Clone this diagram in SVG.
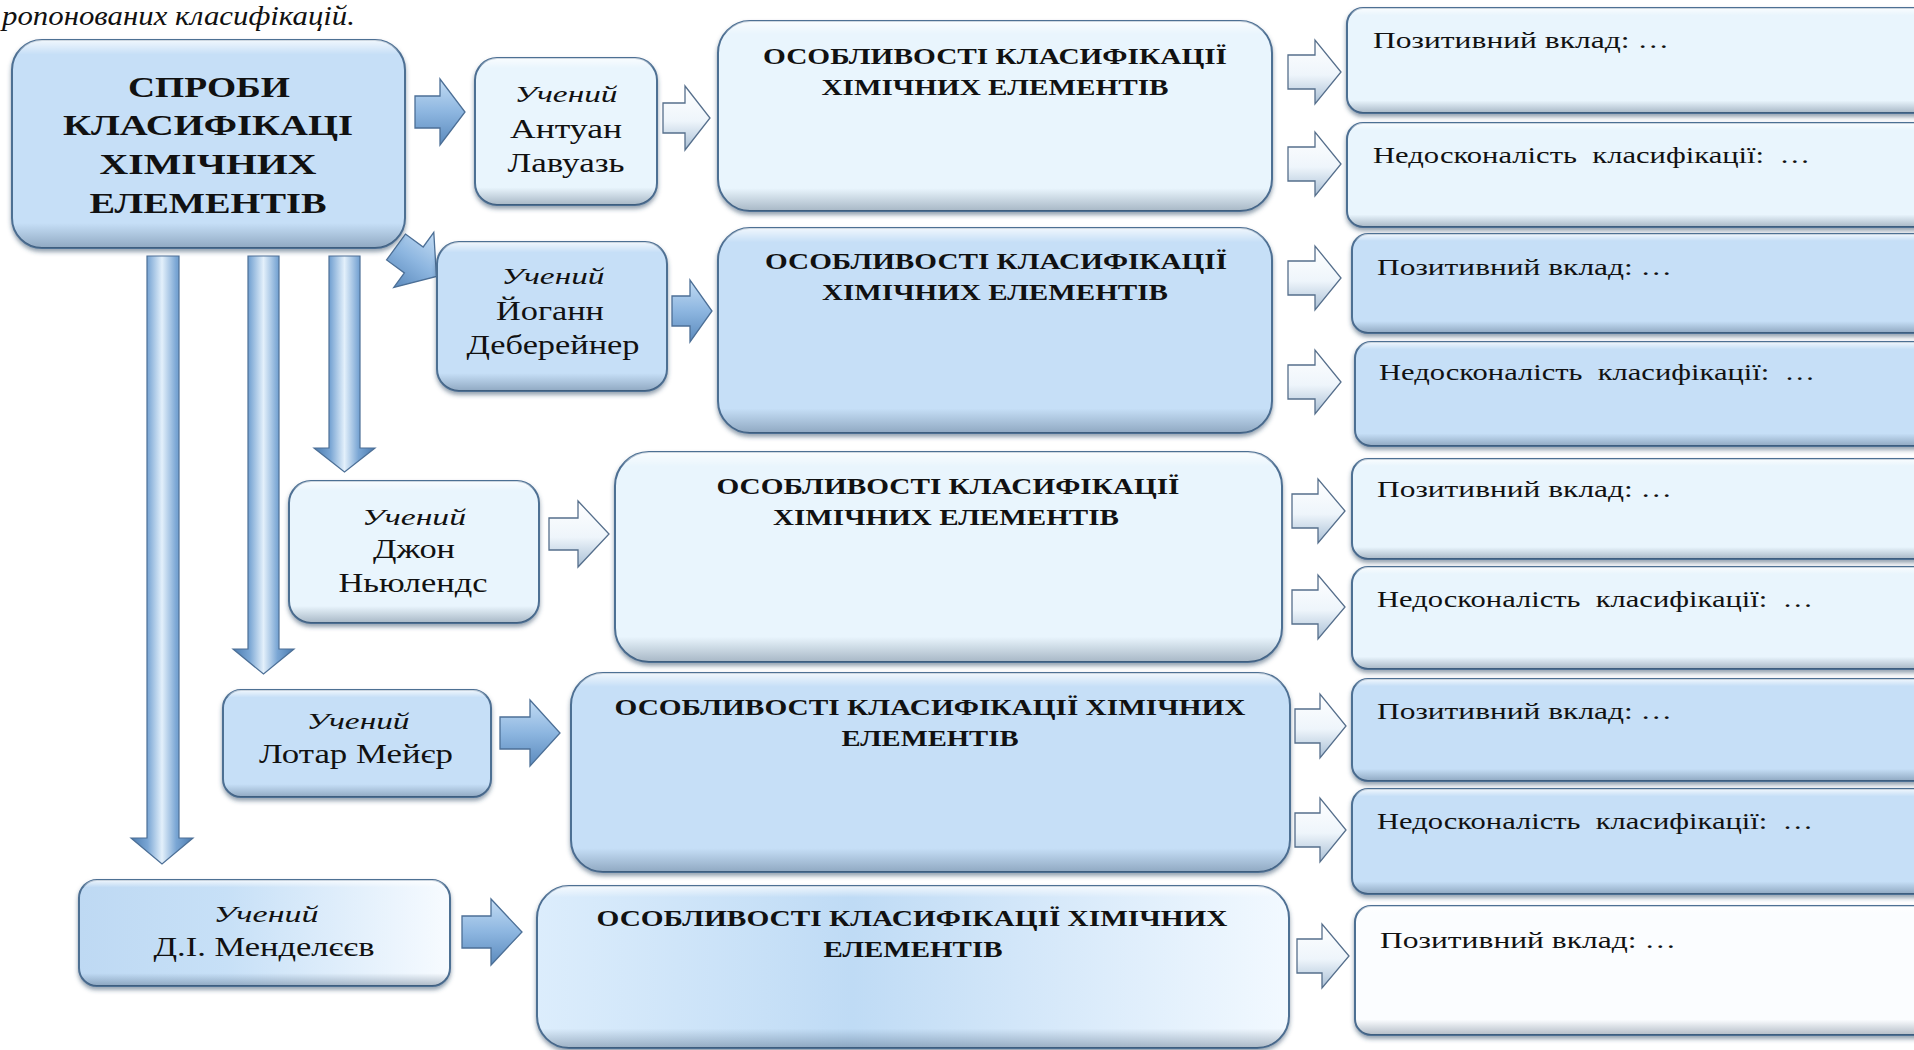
<svg xmlns="http://www.w3.org/2000/svg" width="1914" height="1050" viewBox="0 0 1914 1050">
  <defs>
    <style>
      .box { stroke: #4e6f93; stroke-width: 2; filter: url(#sh); }
      .light { fill: #e9f5fd; }
      .mid { fill: #c6dff7; }
      .bev { fill: url(#bev); stroke: none; }
      text { fill: #111; font-family: "Liberation Serif", "Times New Roman", serif; }
      .t-main { font-size: 30px; font-weight: bold; text-anchor: middle; }
      .t-feat { font-size: 23px; font-weight: bold; text-anchor: middle; }
      .t-item { font-size: 23px; white-space: pre; }
      .t-name { font-size: 27px; text-anchor: middle; }
      .t-role { font-size: 24px; font-style: italic; text-anchor: middle; }
      .arr-mid { fill: url(#gArrMid); stroke: #4c6f96; stroke-width: 1.3; stroke-linejoin: miter; }
      .arr-light { fill: url(#gArrLight); stroke: #566f8c; stroke-width: 1.3; stroke-linejoin: miter; }
      .arr-v { fill: url(#gArrV); stroke: #4c6f96; stroke-width: 1.2; }
    </style>
    <filter id="sh" x="-5%" y="-5%" width="110%" height="120%">
      <feDropShadow dx="0" dy="3" stdDeviation="2" flood-color="#2c4562" flood-opacity="0.5"/>
    </filter>
    <linearGradient id="bev" x1="0" y1="0" x2="0" y2="1">
      <stop offset="0" stop-color="#ffffff" stop-opacity="0.75"/>
      <stop offset="0.07" stop-color="#ffffff" stop-opacity="0"/>
      <stop offset="0.88" stop-color="#1c3450" stop-opacity="0"/>
      <stop offset="1" stop-color="#1c3450" stop-opacity="0.32"/>
    </linearGradient>
    <linearGradient id="gMend" x1="0" y1="0" x2="1" y2="0">
      <stop offset="0" stop-color="#bed9f3"/>
      <stop offset="0.4" stop-color="#c7e0f7"/>
      <stop offset="1" stop-color="#f7fbff"/>
    </linearGradient>
    <linearGradient id="gFeat5" x1="0" y1="0" x2="1" y2="0">
      <stop offset="0" stop-color="#dcedfc"/>
      <stop offset="0.42" stop-color="#bfdbf5"/>
      <stop offset="0.75" stop-color="#dcecfb"/>
      <stop offset="1" stop-color="#f2f9ff"/>
    </linearGradient>
    <linearGradient id="gArrMid" x1="0" y1="0" x2="0" y2="1">
      <stop offset="0" stop-color="#c3dcf4"/>
      <stop offset="0.5" stop-color="#8db6e0"/>
      <stop offset="1" stop-color="#5b8abd"/>
    </linearGradient>
    <linearGradient id="gArrLight" x1="0" y1="0" x2="0" y2="1">
      <stop offset="0" stop-color="#ffffff"/>
      <stop offset="0.55" stop-color="#eef5fb"/>
      <stop offset="1" stop-color="#a9bfd5"/>
    </linearGradient>
    <linearGradient id="gArrV" x1="0" y1="0" x2="1" y2="0">
      <stop offset="0" stop-color="#4a7aae"/>
      <stop offset="0.27" stop-color="#7aa6d4"/>
      <stop offset="0.5" stop-color="#e3f0fb"/>
      <stop offset="0.73" stop-color="#7aa6d4"/>
      <stop offset="1" stop-color="#4a7aae"/>
    </linearGradient>
  </defs>

  <rect width="1914" height="1050" fill="#ffffff"/>

  <!-- caption fragment at the top edge -->
  <text x="2" y="25" font-size="28" font-style="italic" textLength="353" lengthAdjust="spacingAndGlyphs">ропонованих класифікацій.</text>

  <!-- connectors -->
  <g id="connectors">
    <!-- vertical trunks from the root box -->
    <path class="arr-v" d="M147,256 L179,256 L179,838 L193,838 L162,864 L131,838 L147,838 Z"/>
    <path class="arr-v" d="M248,256 L279,256 L279,649 L294,649 L263.5,674 L233,649 L248,649 Z"/>
    <path class="arr-v" d="M329,256 L360,256 L360,448 L375,448 L344.5,472 L314,448 L329,448 Z"/>
    <!-- root to scientists -->
    <path class="arr-mid" d="M415,96 L440,96 L440,79 L465,112 L440,145 L440,128 L415,128 Z"/>
    <path class="arr-mid" transform="translate(396,247) rotate(36)" d="M0,-16 L22,-16 L22,-34 L50,0 L22,34 L22,16 L0,16 Z"/>
    <!-- scientists to features -->
    <path class="arr-light" d="M663,103 L685,103 L685,86 L710,118 L685,150 L685,133 L663,133 Z"/>
    <path class="arr-mid" d="M672,296 L690,296 L690,280 L712,311 L690,342 L690,326 L672,326 Z"/>
    <path class="arr-light" d="M549,518 L578,518 L578,501 L609,534 L578,567 L578,550 L549,550 Z"/>
    <path class="arr-mid" d="M500,717 L530,717 L530,700 L560,733 L530,766 L530,749 L500,749 Z"/>
    <path class="arr-mid" d="M462,916 L491,916 L491,899 L522,932 L491,965 L491,948 L462,948 Z"/>
    <!-- features to outcomes -->
    <path class="arr-light" d="M1288,55 L1315,55 L1315,40 L1341,72 L1315,104 L1315,89 L1288,89 Z"/>
    <path class="arr-light" d="M1288,147 L1315,147 L1315,132 L1341,164 L1315,196 L1315,181 L1288,181 Z"/>
    <path class="arr-light" d="M1288,261 L1315,261 L1315,246 L1341,278 L1315,310 L1315,295 L1288,295 Z"/>
    <path class="arr-light" d="M1288,365 L1315,365 L1315,350 L1341,382 L1315,414 L1315,399 L1288,399 Z"/>
    <path class="arr-light" d="M1292,494 L1318,494 L1318,479 L1345,511 L1318,543 L1318,528 L1292,528 Z"/>
    <path class="arr-light" d="M1292,590 L1318,590 L1318,575 L1345,607 L1318,639 L1318,624 L1292,624 Z"/>
    <path class="arr-light" d="M1295,709 L1320,709 L1320,694 L1346,726 L1320,758 L1320,743 L1295,743 Z"/>
    <path class="arr-light" d="M1295,813 L1320,813 L1320,798 L1346,830 L1320,862 L1320,847 L1295,847 Z"/>
    <path class="arr-light" d="M1297,939 L1322,939 L1322,924 L1349,956 L1322,988 L1322,973 L1297,973 Z"/>
  </g>

  <!-- root -->
  <g id="root">
    <rect class="box mid" x="12" y="40" width="393" height="208" rx="30"/>
    <rect class="bev" x="12" y="40" width="393" height="208" rx="30"/>
    <text class="t-main" x="209" y="97" textLength="162" lengthAdjust="spacingAndGlyphs">СПРОБИ</text>
    <text class="t-main" x="208" y="135" textLength="290" lengthAdjust="spacingAndGlyphs">КЛАСИФІКАЦІ</text>
    <text class="t-main" x="208" y="174" textLength="217" lengthAdjust="spacingAndGlyphs">ХІМІЧНИХ</text>
    <text class="t-main" x="208" y="213" textLength="237" lengthAdjust="spacingAndGlyphs">ЕЛЕМЕНТІВ</text>
  </g>

  <!-- Lavoisier row -->
  <g id="lavoisier">
    <rect class="box light" x="475" y="58" width="182" height="147" rx="22"/>
    <rect class="bev" x="475" y="58" width="182" height="147" rx="22"/>
    <text class="t-role" x="566" y="102" textLength="103" lengthAdjust="spacingAndGlyphs">Учений</text>
    <text class="t-name" x="566" y="138" textLength="112" lengthAdjust="spacingAndGlyphs">Антуан</text>
    <text class="t-name" x="566" y="172" textLength="117" lengthAdjust="spacingAndGlyphs">Лавуазь</text>
  </g>
  <g id="features-1">
    <rect class="box light" x="718" y="21" width="554" height="190" rx="32"/>
    <rect class="bev" x="718" y="21" width="554" height="190" rx="32"/>
    <text class="t-feat" x="995" y="64" textLength="464" lengthAdjust="spacingAndGlyphs">ОСОБЛИВОСТІ КЛАСИФІКАЦІЇ</text>
    <text class="t-feat" x="995" y="95" textLength="347" lengthAdjust="spacingAndGlyphs">ХІМІЧНИХ ЕЛЕМЕНТІВ</text>
  </g>
  <g id="positive-1">
    <rect class="box light" x="1347" y="8" width="590" height="105" rx="16"/>
    <rect class="bev" x="1347" y="8" width="590" height="105" rx="16"/>
    <text class="t-item" x="1373" y="48" textLength="296" lengthAdjust="spacingAndGlyphs">Позитивний вклад: …</text>
  </g>
  <g id="flaws-1">
    <rect class="box light" x="1347" y="123" width="590" height="104" rx="16"/>
    <rect class="bev" x="1347" y="123" width="590" height="104" rx="16"/>
    <text class="t-item" x="1373" y="163" textLength="437" lengthAdjust="spacingAndGlyphs">Недосконалість  класифікації:  …</text>
  </g>

  <!-- Döbereiner row -->
  <g id="doebereiner">
    <rect class="box mid" x="437" y="242" width="230" height="149" rx="22"/>
    <rect class="bev" x="437" y="242" width="230" height="149" rx="22"/>
    <text class="t-role" x="553" y="284" textLength="103" lengthAdjust="spacingAndGlyphs">Учений</text>
    <text class="t-name" x="550" y="320" textLength="108" lengthAdjust="spacingAndGlyphs">Йоганн</text>
    <text class="t-name" x="553" y="354" textLength="173" lengthAdjust="spacingAndGlyphs">Деберейнер</text>
  </g>
  <g id="features-2">
    <rect class="box mid" x="718" y="228" width="554" height="205" rx="32"/>
    <rect class="bev" x="718" y="228" width="554" height="205" rx="32"/>
    <text class="t-feat" x="996" y="269" textLength="462" lengthAdjust="spacingAndGlyphs">ОСОБЛИВОСТІ КЛАСИФІКАЦІЇ</text>
    <text class="t-feat" x="995" y="300" textLength="346" lengthAdjust="spacingAndGlyphs">ХІМІЧНИХ ЕЛЕМЕНТІВ</text>
  </g>
  <g id="positive-2">
    <rect class="box mid" x="1352" y="234" width="585" height="99" rx="16"/>
    <rect class="bev" x="1352" y="234" width="585" height="99" rx="16"/>
    <text class="t-item" x="1377" y="275" textLength="295" lengthAdjust="spacingAndGlyphs">Позитивний вклад: …</text>
  </g>
  <g id="flaws-2">
    <rect class="box mid" x="1355" y="342" width="582" height="104" rx="16"/>
    <rect class="bev" x="1355" y="342" width="582" height="104" rx="16"/>
    <text class="t-item" x="1379" y="380" textLength="436" lengthAdjust="spacingAndGlyphs">Недосконалість  класифікації:  …</text>
  </g>

  <!-- Newlands row -->
  <g id="newlands">
    <rect class="box light" x="289" y="481" width="250" height="142" rx="22"/>
    <rect class="bev" x="289" y="481" width="250" height="142" rx="22"/>
    <text class="t-role" x="414" y="525" textLength="104" lengthAdjust="spacingAndGlyphs">Учений</text>
    <text class="t-name" x="414" y="558" textLength="82" lengthAdjust="spacingAndGlyphs">Джон</text>
    <text class="t-name" x="413" y="592" textLength="149" lengthAdjust="spacingAndGlyphs">Ньюлендс</text>
  </g>
  <g id="features-3">
    <rect class="box light" x="615" y="452" width="667" height="210" rx="34"/>
    <rect class="bev" x="615" y="452" width="667" height="210" rx="34"/>
    <text class="t-feat" x="948" y="494" textLength="463" lengthAdjust="spacingAndGlyphs">ОСОБЛИВОСТІ КЛАСИФІКАЦІЇ</text>
    <text class="t-feat" x="946" y="525" textLength="346" lengthAdjust="spacingAndGlyphs">ХІМІЧНИХ ЕЛЕМЕНТІВ</text>
  </g>
  <g id="positive-3">
    <rect class="box light" x="1352" y="459" width="585" height="100" rx="16"/>
    <rect class="bev" x="1352" y="459" width="585" height="100" rx="16"/>
    <text class="t-item" x="1377" y="497" textLength="295" lengthAdjust="spacingAndGlyphs">Позитивний вклад: …</text>
  </g>
  <g id="flaws-3">
    <rect class="box light" x="1352" y="567" width="585" height="102" rx="16"/>
    <rect class="bev" x="1352" y="567" width="585" height="102" rx="16"/>
    <text class="t-item" x="1377" y="607" textLength="436" lengthAdjust="spacingAndGlyphs">Недосконалість  класифікації:  …</text>
  </g>

  <!-- Meyer row -->
  <g id="meyer">
    <rect class="box mid" x="223" y="690" width="268" height="107" rx="18"/>
    <rect class="bev" x="223" y="690" width="268" height="107" rx="18"/>
    <text class="t-role" x="358" y="729" textLength="103" lengthAdjust="spacingAndGlyphs">Учений</text>
    <text class="t-name" x="356" y="763" textLength="194" lengthAdjust="spacingAndGlyphs">Лотар Мейєр</text>
  </g>
  <g id="features-4">
    <rect class="box mid" x="571" y="673" width="719" height="199" rx="32"/>
    <rect class="bev" x="571" y="673" width="719" height="199" rx="32"/>
    <text class="t-feat" x="930" y="715" textLength="631" lengthAdjust="spacingAndGlyphs">ОСОБЛИВОСТІ КЛАСИФІКАЦІЇ ХІМІЧНИХ</text>
    <text class="t-feat" x="930" y="746" textLength="177" lengthAdjust="spacingAndGlyphs">ЕЛЕМЕНТІВ</text>
  </g>
  <g id="positive-4">
    <rect class="box mid" x="1352" y="679" width="585" height="102" rx="16"/>
    <rect class="bev" x="1352" y="679" width="585" height="102" rx="16"/>
    <text class="t-item" x="1377" y="719" textLength="295" lengthAdjust="spacingAndGlyphs">Позитивний вклад: …</text>
  </g>
  <g id="flaws-4">
    <rect class="box mid" x="1352" y="789" width="585" height="105" rx="16"/>
    <rect class="bev" x="1352" y="789" width="585" height="105" rx="16"/>
    <text class="t-item" x="1377" y="829" textLength="436" lengthAdjust="spacingAndGlyphs">Недосконалість  класифікації:  …</text>
  </g>

  <!-- Mendeleev row -->
  <g id="mendeleev">
    <rect class="box" fill="url(#gMend)" x="79" y="880" width="371" height="106" rx="18"/>
    <rect class="bev" x="79" y="880" width="371" height="106" rx="18"/>
    <text class="t-role" x="266" y="922" textLength="105" lengthAdjust="spacingAndGlyphs">Учений</text>
    <text class="t-name" x="264" y="956" textLength="221" lengthAdjust="spacingAndGlyphs">Д.І. Менделєєв</text>
  </g>
  <g id="features-5">
    <rect class="box" fill="url(#gFeat5)" x="537" y="886" width="752" height="162" rx="32"/>
    <rect class="bev" x="537" y="886" width="752" height="162" rx="32"/>
    <text class="t-feat" x="912" y="926" textLength="631" lengthAdjust="spacingAndGlyphs">ОСОБЛИВОСТІ КЛАСИФІКАЦІЇ ХІМІЧНИХ</text>
    <text class="t-feat" x="913" y="957" textLength="179" lengthAdjust="spacingAndGlyphs">ЕЛЕМЕНТІВ</text>
  </g>
  <g id="positive-5">
    <rect class="box" fill="#fbfdff" x="1355" y="906" width="582" height="129" rx="16"/>
    <rect class="bev" x="1355" y="906" width="582" height="129" rx="16"/>
    <text class="t-item" x="1380" y="948" textLength="296" lengthAdjust="spacingAndGlyphs">Позитивний вклад: …</text>
  </g>
</svg>
